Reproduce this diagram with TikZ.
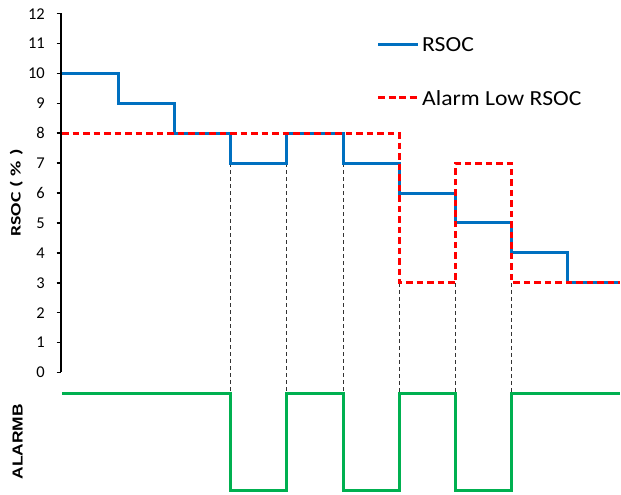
\documentclass[tikz,border=0pt]{standalone}
\usepackage{fontspec}
\setmainfont{Carlito}
\newfontfamily\arialfont{Liberation Sans}
\definecolor{rsocblue}{RGB}{0,112,192}
\definecolor{sigreen}{RGB}{0,176,80}
\begin{document}
\begin{tikzpicture}[x=1pt,y=1pt,
  rsoc/.style={draw=rsocblue, line width=3pt},
  alarmline/.style={draw=red, line width=3pt, dash pattern=on 6.5pt off 4pt},
  sig/.style={draw=sigreen, line width=3pt},
  guide/.style={draw=black!80, line width=1pt, dash pattern=on 4pt off 3pt},
  ticklab/.style={font=\fontsize{16.5}{18}\selectfont, anchor=east, inner sep=0pt},
  legtext/.style={font=\fontsize{21.5}{24}\selectfont, anchor=west, inner sep=0pt},
  ypart/.style={rotate=90, inner sep=0pt, anchor=base, font=\bfseries\fontsize{14.5}{16}\selectfont},
]
\useasboundingbox (0,0) rectangle (621,495);
% axis
\draw[line width=2pt] (61,122.5) -- (61,481.7);
\foreach \v in {0,...,12}{
  \draw[line width=1.6pt] (56.5,122.5+29.9*\v) -- (61,122.5+29.9*\v);
  \node[ticklab] (tick\v) at (45,122.5+29.9*\v) {\v};
}
\begin{scope}[shift={(62,122.5)}, x=56.2pt, y=29.9pt]
  % guides
  \foreach \t in {3,4,5}{ \draw[guide] (\t,7) -- (\t,-0.719); }
  \foreach \t in {6,7,8}{ \draw[guide] (\t,3) -- (\t,-0.719); }
  % RSOC
  \draw[rsoc] (0,10) -| (1,9) -| (2,8) -| (3,7) -| (4,8) -| (5,7) -| (6,6) -| (7,5) -| (8,4) -| (9,3) -- (9.93,3);
  % Alarm low
  \draw[alarmline] (0,8) -| (6,3) -| (7,7) -| (8,3) -- (9.93,3);
  % ALARMB
  \draw[sig] (0,-0.719) -| (3,-3.946) -| (4,-0.719) -| (5,-3.946) -| (6,-0.719) -| (7,-3.946) -| (8,-0.719) -- (9.93,-0.719);
\end{scope}
% legend
\coordinate (lb1) at (378,450);
\coordinate (lb2) at (418,450);
\coordinate (lr1) at (378,397);
\coordinate (lr2) at (418,397);
\draw[rsoc] (lb1) -- (lb2);
\draw[alarmline, dash pattern=on 7pt off 3.5pt] (lr1) -- (lr2);
\node[legtext] (legb) at (422,450) {\scalebox{1.1}[1]{RSOC}};
\node[legtext] (legr) at (422,397) {\scalebox{1.1}[1]{Alarm Low RSOC}};
% axis labels
\node[ypart] (ylabA) at (20.5,280.5) {\scalebox{1.36}[1]{RSOC}};
\node[ypart] (ylabB) at (20.5,310.5) {\scalebox{1.45}[1]{(}};
\node[ypart] (ylabC) at (20.5,326) {\scalebox{1.45}[1]{\%}};
\node[ypart] (ylabD) at (20.5,342.5) {\scalebox{1.45}[1]{)}};
\node[rotate=90, inner sep=0pt, font=\arialfont\bfseries\fontsize{14.5}{16}\selectfont] (alab) at (17.7,53.3) {\scalebox{1.2}[1]{ALARMB}};
\end{tikzpicture}
\end{document}
